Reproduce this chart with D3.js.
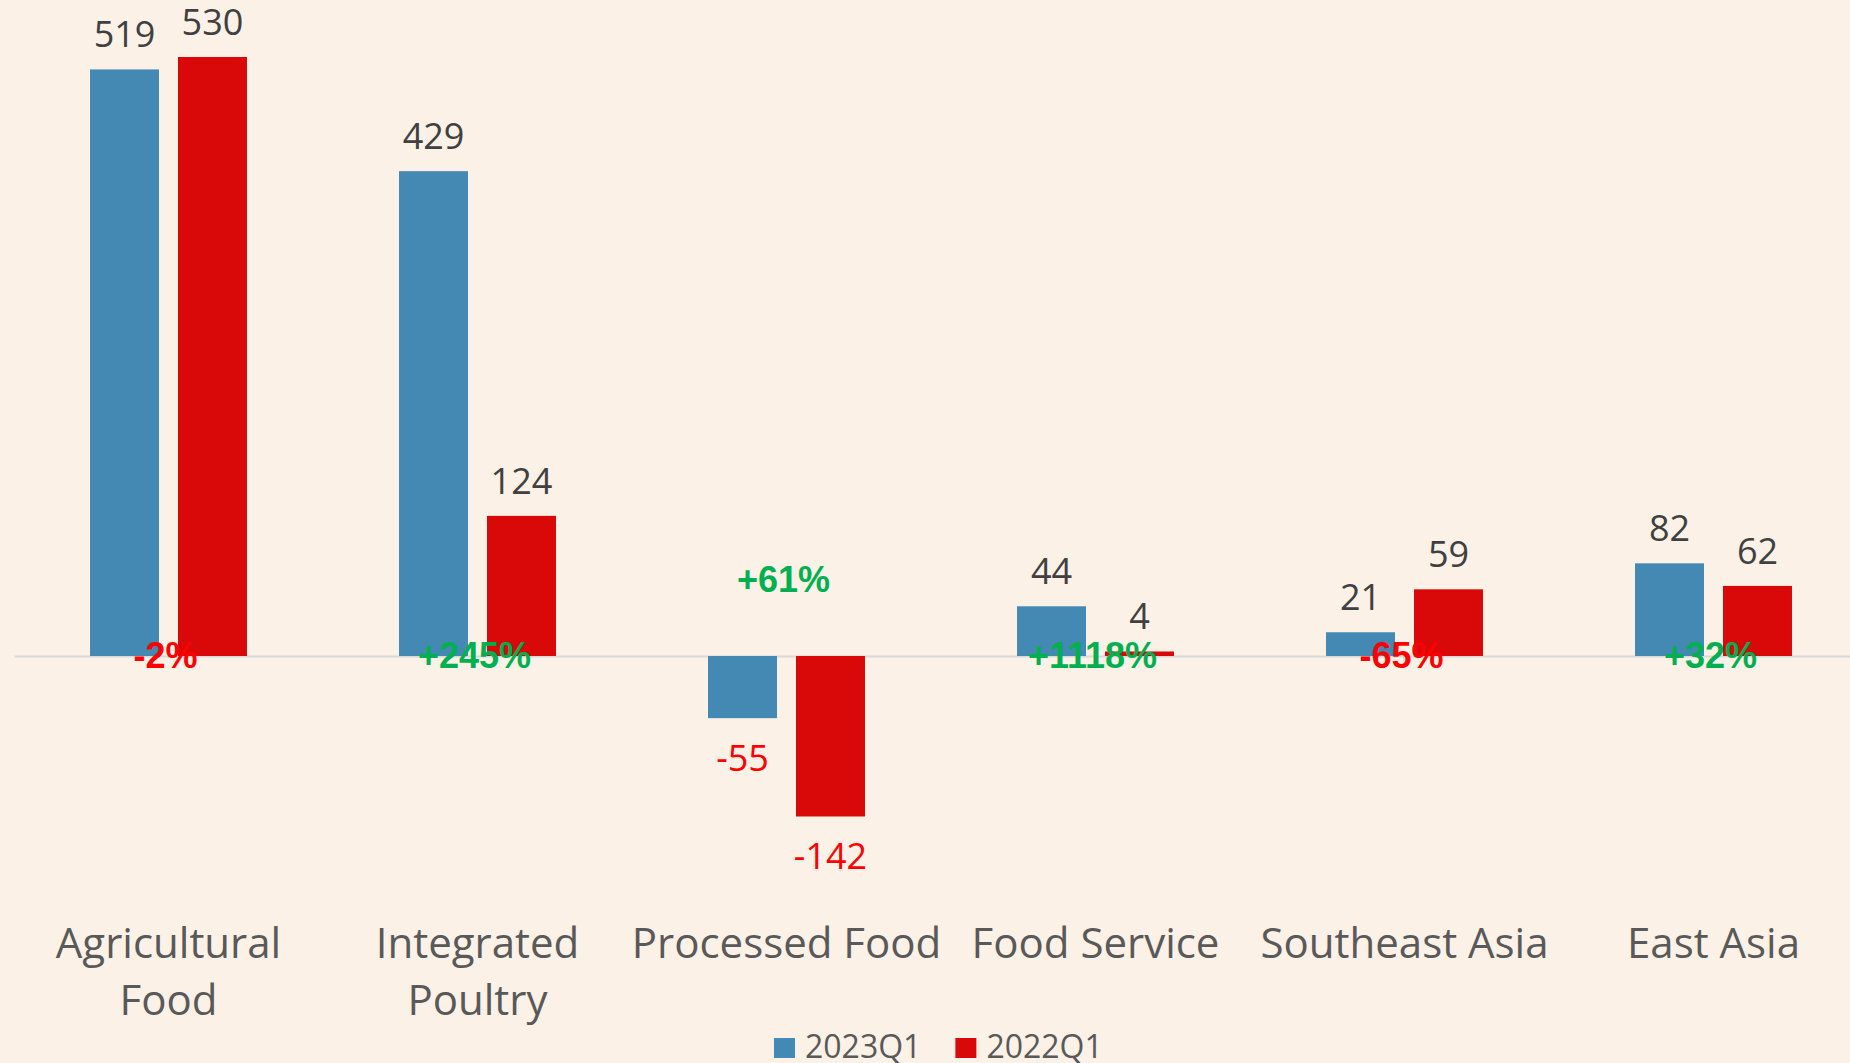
<!DOCTYPE html>
<html>
<head>
<meta charset="utf-8">
<script src="https://cdn.jsdelivr.net/npm/d3@7"></script>
<style>
  html, body { margin: 0; padding: 0; background: #fbf1e6; }
  svg { display: block; }
</style>
</head>
<body>
<svg id="chart" width="1850" height="1063"></svg>
<script>
// data
var categories = ["Agricultural\nFood", "Integrated\nPoultry", "Processed Food", "Food Service", "Southeast Asia", "East Asia"];
var seriesNames = ["2023Q1", "2022Q1"];
var values2023 = [519, 429, -55, 44, 21, 82];
var values2022 = [530, 124, -142, 4, 59, 62];
var changePct = [-2, 245, 61, 1118, -65, 32];

var colors = { "2023Q1": "#4389b4", "2022Q1": "#d90909" };

var svg = d3.select("#chart"),
  width = +svg.attr("width"),
  height = +svg.attr("height");

svg.append("rect").attr("width", width).attr("height", height).attr("fill", "#fbf1e6");

var x0 = d3.scaleBand().domain(categories).range([14, 1868]);
var x1 = d3.scaleBand().domain(seriesNames).range([0, x0.bandwidth()])
  .paddingInner(0.216).paddingOuter(0.864);
var y = d3.scaleLinear().domain([0, 530]).range([656, 57]);

var rows = categories.map(function(c, i) {
  return { cat: c, vals: [
    { key: "2023Q1", v: values2023[i] },
    { key: "2022Q1", v: values2022[i] }
  ], pct: changePct[i] };
});

// axis at zero, labels far below
var xAxis = d3.axisBottom(x0).tickSizeInner(0).tickSizeOuter(0).tickPadding(272);
var gx = svg.append("g")
  .attr("transform", "translate(0," + y(0) + ")")
  .call(xAxis);
gx.select(".domain").attr("stroke", "#d9d9d9").attr("stroke-width", 2);
gx.selectAll(".tick text")
  .attr("font-family", "Open Sans, sans-serif")
  .attr("font-size", 42)
  .attr("fill", "#595959")
  .each(function(d) {
    var t = d3.select(this), lines = d.split("\n");
    t.text(null);
    lines.forEach(function(l, k) {
      t.append("tspan").attr("x", 0).attr("dy", k === 0 ? "0.71em" : "1.36em").text(l);
    });
  });

var groups = svg.selectAll("g.grp")
  .data(rows).enter().append("g")
  .attr("class", "grp")
  .attr("transform", function(d) { return "translate(" + x0(d.cat) + ",0)"; });

groups.selectAll("rect")
  .data(function(d) { return d.vals; }).enter().append("rect")
  .attr("x", function(d) { return x1(d.key); })
  .attr("width", x1.bandwidth())
  .attr("y", function(d) { return Math.min(y(d.v), y(0)); })
  .attr("height", function(d) { return Math.abs(y(d.v) - y(0)); })
  .attr("fill", function(d) { return colors[d.key]; });

groups.selectAll("text.val")
  .data(function(d) { return d.vals; }).enter().append("text")
  .attr("class", "val")
  .attr("x", function(d) { return x1(d.key) + x1.bandwidth() / 2; })
  .attr("y", function(d) { return d.v >= 0 ? y(d.v) - 22 : y(d.v) + 53; })
  .attr("text-anchor", "middle")
  .attr("font-family", "Open Sans, sans-serif")
  .attr("font-size", 36)
  .attr("fill", function(d) { return d.v >= 0 ? "#404040" : "#ff0000"; })
  .text(function(d) { return d.v; });

// change labels
groups.append("text")
  .attr("x", x0.bandwidth() / 2 - 3)
  .attr("y", function(d) {
    var top = d3.max(d.vals, function(e) { return e.v; });
    return top < 0 ? y(0) - 64 : y(0) + 12;
  })
  .attr("text-anchor", "middle")
  .attr("font-family", "Liberation Sans, Arial, sans-serif")
  .attr("font-weight", "bold")
  .attr("font-size", 36)
  .attr("fill", function(d) { return d.pct >= 0 ? "#00b050" : "#ff0000"; })
  .text(function(d) { return (d.pct > 0 ? "+" : "") + d.pct + "%"; });

// legend
var legend = svg.append("g").attr("transform", "translate(774,1038)");
var lx = 0;
seriesNames.forEach(function(s) {
  var item = legend.append("g").attr("transform", "translate(" + lx + ",0)");
  item.append("rect").attr("width", 21).attr("height", 20).attr("fill", colors[s]);
  var t = item.append("text")
    .attr("x", 31).attr("y", 20)
    .attr("font-family", "Open Sans, sans-serif")
    .attr("font-size", 32)
    .attr("fill", "#595959")
    .text(s);
  lx += 31 + t.node().getComputedTextLength() + 34;
});
</script>
</body>
</html>
